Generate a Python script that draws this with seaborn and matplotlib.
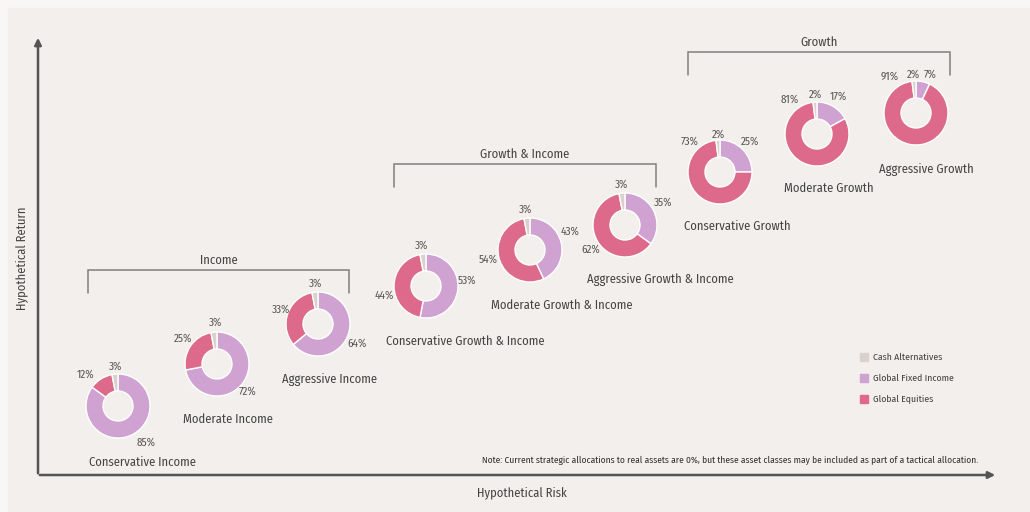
import matplotlib
matplotlib.use("Agg")
import matplotlib.pyplot as plt
import matplotlib.font_manager as fm
from matplotlib.patches import Rectangle
import seaborn as sns

# Portfolio data (order: fixed income, equities, cash -> clockwise from 12 o'clock)
portfolios = ['Conservative Income', 'Moderate Income', 'Aggressive Income',
              'Conservative Growth & Income', 'Moderate Growth & Income',
              'Aggressive Growth & Income', 'Conservative Growth',
              'Moderate Growth', 'Aggressive Growth']
fixed_income = [85, 72, 64, 53, 43, 35, 25, 17, 7]
equities = [12, 25, 33, 44, 54, 62, 73, 81, 91]
cash = [3, 3, 3, 3, 3, 3, 2, 2, 2]

asset_classes = ['Cash Alternatives', 'Global Fixed Income', 'Global Equities']
groups = ['Income', 'Growth & Income', 'Growth']

# layout in pixels (origin top left)
W, H = 1030, 512
centers = [(118, 406), (217, 364), (318, 324), (426, 286), (530, 250),
           (625, 225), (720, 172), (817, 134), (916, 113)]
name_pos = [(142, 462), (228, 419), (330, 379), (465, 341), (562, 305),
            (660, 280), (737, 226), (829, 188), (926, 169)]
# label offsets from centre: fixed, equities, cash
fi_off = [(28, 37), (31, 28), (39, 20), (41, -5), (40, -18), (38, -22), (30, -30), (21, -37), (14, -38)]
eq_off = [(-32, -31), (-34, -25), (-37, -14), (-42, 10), (-42, 10), (-34, 25), (-30, -30), (-27, -34), (-26, -36)]
ca_off = [(-2, -39), (-1, -41), (-2, -40), (-4, -40), (-4, -40), (-3, -40), (-2, -37), (-2, -39), (-3, -38)]
brackets = [(88, 349, 270), (394, 656, 164), (688, 950, 52)]

colors = {'cash': '#d9d2ca', 'fixed': '#cfa2d2', 'equity': '#dd6a8b'}
bg = '#f2efec'
ink = '#444444'

sns.set_theme(style='white')
fams = {f.name for f in fm.fontManager.ttflist}
candidates = ['Fira Sans Condensed', 'Asap Condensed', 'Encode Sans Condensed',
              'Roboto Condensed', 'IBM Plex Sans Condensed', 'Open Sans Condensed',
              'Liberation Sans Narrow', 'DejaVu Sans']
main_font = next(f for f in candidates if f in fams or f == 'DejaVu Sans')
plt.rcParams['font.family'] = [main_font, 'DejaVu Sans']

fig = plt.figure(figsize=(W / 100, H / 100), dpi=100)
fig.patch.set_facecolor('#f8f7f5')
ax = fig.add_axes([0, 0, 1, 1])
ax.set_facecolor('none')
ax.add_patch(Rectangle((8, 0), W - 8, H - 8, color=bg, zorder=0))

pal = [colors['fixed'], colors['equity'], colors['cash']]
for i, name in enumerate(portfolios):
    cx, cy = centers[i]
    ax.pie([fixed_income[i], equities[i], cash[i]], colors=pal, center=(cx, H - cy),
           radius=32, startangle=90, counterclock=False, frame=True,
           wedgeprops=dict(width=17, edgecolor='white', linewidth=1))
    for off, val in [(fi_off[i], fixed_income[i]), (eq_off[i], equities[i]), (ca_off[i], cash[i])]:
        ax.text(cx + off[0], H - (cy + off[1]), f'{val}%', ha='center', va='center',
                fontsize=8, color='#555555')
    nx, ny = name_pos[i]
    ax.text(nx, H - ny, name, ha='center', va='center', fontsize=9, color=ink)

for (x0, x1, yt), g in zip(brackets, groups):
    ax.plot([x0, x0, x1, x1], [H - yt - 23, H - yt, H - yt, H - yt - 23],
            color='#808080', lw=1.1, solid_joinstyle='miter')
    ax.text((x0 + x1) / 2, H - yt + 10, g, ha='center', va='center', fontsize=9, color=ink)

# axes arrows
ax.annotate('', xy=(38, H - 35), xytext=(38, H - 476),
            arrowprops=dict(arrowstyle='-|>', color='#555555', lw=1.8, mutation_scale=10))
ax.annotate('', xy=(998, H - 475), xytext=(37, H - 475),
            arrowprops=dict(arrowstyle='-|>', color='#555555', lw=1.8, mutation_scale=10))
ax.text(22, H - 258, 'Hypothetical Return', rotation=90, ha='center', va='center',
        fontsize=9, color=ink)
ax.text(522, H - 493, 'Hypothetical Risk', ha='center', va='center', fontsize=9, color=ink)

# legend
for j, (lab, c) in enumerate(zip(asset_classes, [colors['cash'], colors['fixed'], colors['equity']])):
    y = 357 + 21 * j
    ax.add_patch(Rectangle((860, H - y - 4), 8, 8, color=c))
    ax.text(873, H - y, lab, ha='left', va='center', fontsize=7, color=ink)

ax.text(482, H - 460, 'Note: Current strategic allocations to real assets are 0%, but these asset '
        'classes may be included as part of a tactical allocation.',
        ha='left', va='center', fontsize=6.8, color='#333333')

ax.set_xlim(0, W)
ax.set_ylim(0, H)
ax.set_aspect('auto')
ax.axis('off')
fig.savefig('out.png', dpi=100, facecolor=fig.get_facecolor())
